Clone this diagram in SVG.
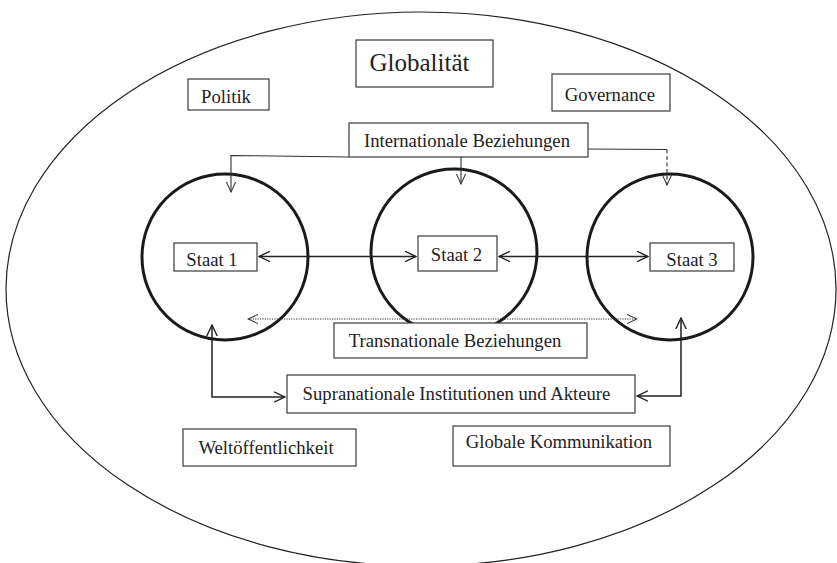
<svg xmlns="http://www.w3.org/2000/svg" width="837" height="563" viewBox="0 0 837 563">
<style>
.box{fill:#fff;stroke:#3a3a3a;stroke-width:1.2}
.lbl{font-family:"Liberation Serif","Times New Roman",serif;font-size:18.7px;fill:#222;text-anchor:middle}
.state{fill:none;stroke:#1a1a1a;stroke-width:3}
.con{fill:none;stroke:#222;stroke-width:1.5}
.thin{fill:none;stroke:#333;stroke-width:1.1}
</style>
<defs>
<marker id="ah" viewBox="0 0 12 12" refX="11" refY="6" markerWidth="12" markerHeight="12" markerUnits="userSpaceOnUse" orient="auto-start-reverse">
<path d="M0,0.8 L11,6 L0,11.2" fill="none" stroke="#222" stroke-width="1.4"/>
</marker>
<marker id="ahs" viewBox="0 0 12 12" refX="11" refY="6" markerWidth="11" markerHeight="11" markerUnits="userSpaceOnUse" orient="auto-start-reverse">
<path d="M0,1 L11,6 L0,11" fill="none" stroke="#333" stroke-width="1.1"/>
</marker>
</defs>
<rect width="837" height="563" fill="#fff"/>
<g id="globe"><ellipse cx="421" cy="289" rx="415" ry="277" fill="none" stroke="#222" stroke-width="1.2"/></g>
<g id="staat-circles">
<circle class="state" cx="225" cy="257" r="83"/>
<circle class="state" cx="454" cy="252" r="83"/>
<circle class="state" cx="670" cy="257" r="83"/>
</g>
<g id="connectors">
<path class="thin" d="M349,157 L231,155.5 L231,192" marker-end="url(#ahs)"/>
<path class="thin" d="M461,157 L461,184" marker-end="url(#ahs)"/>
<path class="thin" d="M588,149 L667,149.5"/>
<path class="thin" d="M667,149.5 L667,185" stroke-dasharray="4,2.5" marker-end="url(#ahs)"/>
<path class="con" d="M259,256.5 L416,256.5" marker-start="url(#ah)" marker-end="url(#ah)"/>
<path class="con" d="M499,256.5 L648,256.5" marker-start="url(#ah)" marker-end="url(#ah)"/>
<path class="thin" d="M248,319 L637,319" stroke-dasharray="1.2,1.2" marker-start="url(#ahs)" marker-end="url(#ahs)"/>
<path class="con" d="M212,325 L212,397 L285,397" marker-start="url(#ah)" marker-end="url(#ah)"/>
<path class="con" d="M681,318 L681,396 L637,396" marker-start="url(#ah)" marker-end="url(#ah)"/>
</g>
<g id="globalitaet"><rect class="box" x="356" y="40" width="137" height="47"/><text class="lbl" x="419.5" y="71" style="font-size:25px">Globalität</text></g>
<g id="politik"><rect class="box" x="188" y="79" width="81" height="31"/><text class="lbl" x="226" y="102.5">Politik</text></g>
<g id="governance"><rect class="box" x="552" y="74" width="118" height="37"/><text class="lbl" x="610" y="100.5">Governance</text></g>
<g id="internationale"><rect class="box" x="349" y="123" width="239" height="34"/><text class="lbl" x="467" y="147">Internationale Beziehungen</text></g>
<g id="staat1"><rect class="box" x="174" y="243" width="83" height="28"/><text class="lbl" x="212" y="266">Staat 1</text></g>
<g id="staat2"><rect class="box" x="418" y="236" width="79" height="35"/><text class="lbl" x="456.5" y="261">Staat 2</text></g>
<g id="staat3"><rect class="box" x="650" y="243" width="84" height="28"/><text class="lbl" x="692" y="266">Staat 3</text></g>
<g id="transnationale"><rect class="box" x="334" y="323" width="253" height="35"/><text class="lbl" x="455" y="347">Transnationale Beziehungen</text></g>
<g id="supranationale"><rect class="box" x="287" y="375" width="348" height="38"/><text class="lbl" x="456.5" y="399.5">Supranationale Institutionen und Akteure</text></g>
<g id="weltoeffentlichkeit"><rect class="box" x="183" y="429" width="173" height="37"/><text class="lbl" x="266" y="454">Weltöffentlichkeit</text></g>
<g id="globale-kommunikation"><rect class="box" x="453" y="426" width="217" height="40"/><text class="lbl" x="559" y="448">Globale Kommunikation</text></g>
</svg>
